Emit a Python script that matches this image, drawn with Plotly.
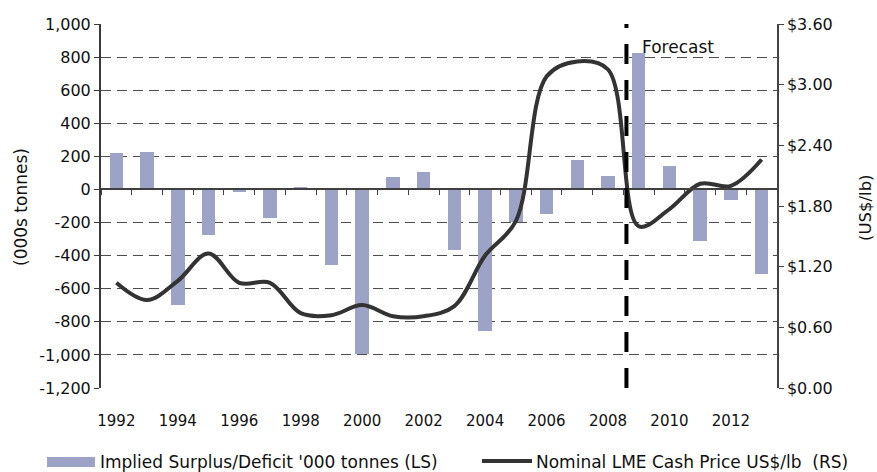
import plotly.graph_objects as go

# ---------------- data ----------------
years = list(range(1992, 2014))
surplus = [220, 225, -700, -275, -15, -175, 15, -455, -995, 75, 105, -365,
           -855, -195, -150, 178, 80, 825, 143, -310, -65, -510]
price = [1.04, 0.87, 1.06, 1.33, 1.04, 1.04, 0.74, 0.72, 0.82, 0.71, 0.71, 0.81,
         1.31, 1.65, 3.08, 3.23, 3.15, 1.60, 1.77, 2.02, 2.00, 2.26]

left_tickvals = [-1200, -1000, -800, -600, -400, -200, 0, 200, 400, 600, 800, 1000]
left_ticktext = ["-1,200", "-1,000", "-800", "-600", "-400", "-200", "0",
                 "200", "400", "600", "800", "1,000"]
right_tickvals = [0.0, 0.6, 1.2, 1.8, 2.4, 3.0, 3.6]
right_ticktext = ["$0.00", "$0.60", "$1.20", "$1.80", "$2.40", "$3.00", "$3.60"]
x_label_years = list(range(1992, 2013, 2))
forecast_year = 2008.6

bar_name = "Implied Surplus/Deficit '000 tonnes (LS)"
line_name = "Nominal LME Cash Price US$/lb  (RS)"

# ---------------- layout geometry ----------------
W, H = 877, 472
ML, MR, MT, MB = 101, 100, 24, 84
PW, PH = W - ML - MR, H - MT - MB
xr = [years[0] - 0.5, years[-1] + 0.5]
yl = [left_tickvals[0], left_tickvals[-1]]
yr = [right_tickvals[0], right_tickvals[-1]]
boundaries = [y - 0.5 for y in years] + [years[-1] + 0.5]


def px_x(p):
    return (p - ML) / PW


def px_y(p):
    return (MT + PH - p) / PH


FONT = "DejaVu Sans"
FS_X = 15      # year labels
FS_Y = 16      # value axis labels
FS_T = 17      # legend / titles / annotation
TXT = "#111111"
BAR_C = "#9da3c6"
LINE_C = "#333333"

fig = go.Figure()
fig.add_trace(go.Bar(x=years, y=surplus, width=0.44, marker_color=BAR_C,
                     marker_line_width=0, name=bar_name, xaxis="x", yaxis="y"))
fig.add_trace(go.Scatter(x=years, y=price, mode="lines", name=line_name,
                         line=dict(color=LINE_C, width=4, shape="spline", smoothing=1.0),
                         xaxis="x2", yaxis="y2"))

fig.update_layout(
    width=W, height=H,
    margin=dict(l=ML, r=MR, t=MT, b=MB, pad=0),
    paper_bgcolor="white", plot_bgcolor="white",
    showlegend=False,
    font=dict(family=FONT, size=FS_T, color=TXT),
    bargap=0,
    xaxis=dict(range=xr, tickmode="array", tickvals=x_label_years,
               ticktext=[str(v) for v in x_label_years],
               showgrid=False, zeroline=False, showline=False, ticks="",
               ticklabelstandoff=22, tickfont=dict(size=FS_X, color=TXT)),
    xaxis2=dict(range=xr, overlaying="x", anchor="free",
                position=(0 - yl[0]) / (yl[1] - yl[0]), side="bottom",
                tickmode="array", tickvals=boundaries, showticklabels=False,
                ticks="outside", ticklen=5, tickwidth=1, tickcolor="#404040",
                showline=True, linecolor="#404040", linewidth=1.5,
                showgrid=False, zeroline=False),
    yaxis=dict(range=yl, tickmode="array", tickvals=left_tickvals,
               ticktext=left_ticktext, showgrid=True, gridcolor="#4d4d4d",
               gridwidth=1, griddash="10px,6px", zeroline=False,
               showline=True, linecolor="#3a3a3a", linewidth=2,
               ticks="outside", ticklen=5, tickcolor="#3a3a3a",
               tickfont=dict(size=FS_Y, color=TXT)),
    yaxis2=dict(range=yr, overlaying="y", side="right", anchor="x2",
                tickmode="array", tickvals=right_tickvals, ticktext=right_ticktext,
                showgrid=False, zeroline=False, showline=True,
                linecolor="#444444", linewidth=1.5, ticks="outside", ticklen=5,
                tickcolor="#444444", tickfont=dict(size=FS_Y, color=TXT)),
)

# Forecast divider
fig.add_shape(type="line", xref="x", yref="paper", x0=forecast_year, x1=forecast_year,
              y0=0, y1=1, line=dict(color="black", width=4, dash="20px,16px"))
fig.add_annotation(text="Forecast", xref="x", yref="paper", x=forecast_year + 0.45,
                   y=px_y(47), xanchor="left", yanchor="middle", showarrow=False,
                   font=dict(size=FS_T, color=TXT))

# Axis titles
fig.add_annotation(text="(000s tonnes)", xref="paper", yref="paper", x=px_x(21), y=px_y(207),
                   textangle=-90, showarrow=False, xanchor="center", yanchor="middle",
                   font=dict(size=FS_T, color=TXT))
fig.add_annotation(text="(US$/lb)", xref="paper", yref="paper", x=px_x(865), y=px_y(208),
                   textangle=-90, showarrow=False, xanchor="center", yanchor="middle",
                   font=dict(size=16.5, color=TXT))

# Custom legend
fig.add_shape(type="rect", xref="paper", yref="paper", x0=px_x(47), x1=px_x(95),
              y0=px_y(467), y1=px_y(457), fillcolor=BAR_C, line_width=0)
fig.add_annotation(text=bar_name, xref="paper", yref="paper", x=px_x(98), y=px_y(462),
                   xanchor="left", yanchor="middle", showarrow=False,
                   font=dict(size=FS_T, color=TXT))
fig.add_shape(type="line", xref="paper", yref="paper", x0=px_x(482), x1=px_x(532),
              y0=px_y(461), y1=px_y(461), line=dict(color=LINE_C, width=4))
fig.add_annotation(text=line_name.replace("  ", "&nbsp; "), xref="paper", yref="paper",
                   x=px_x(534), y=px_y(462),
                   xanchor="left", yanchor="middle", showarrow=False,
                   font=dict(size=FS_T, color=TXT))

fig.write_html("out.html", config={"displayModeBar": False},
               post_script="document.body.style.margin='0';")
